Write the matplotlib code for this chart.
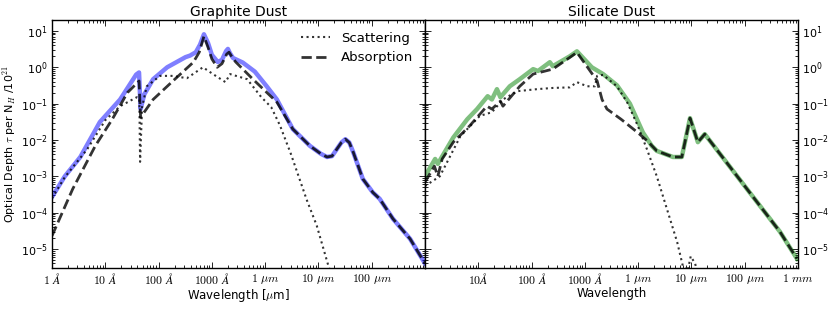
import matplotlib
matplotlib.use("Agg")
import matplotlib.pyplot as plt
from matplotlib.ticker import FixedLocator, FixedFormatter, LogLocator, NullFormatter

plt.rcParams['mathtext.fontset'] = 'cm'
plt.rcParams['font.family'] = ['DejaVu Sans']

# ---------------- Graphite dust (wavelength in micron) ----------------
gr_tot_wl = [1e-4, 1.74e-4, 3.4e-4, 7.9e-4, 1.9e-3, 3.8e-3, 4.3e-3, 4.6e-3, 5.4e-3,
             7.9e-3, 1.45e-2, 3.2e-2, 3.9e-2, 5.0e-2, 6.0e-2, 7.1e-2, 0.085, 0.1, 0.129, 0.155,
             0.185, 0.2, 0.22, 0.25, 0.38, 0.64, 1.07, 1.66, 3.3, 6.9, 11, 14.5, 18, 21, 27, 32, 38, 45, 68, 105,
             141, 250, 525, 1000]
gr_tot = [2.7e-4, 1.0e-3, 3.4e-3, 3.1e-2, 0.13, 0.63, 0.72, 0.071, 0.18,
          0.47, 1.0, 1.9, 2.1, 2.6, 4.2, 8.1, 4.6, 2.2, 1.4, 1.6,
          2.8, 3.2, 2.4, 1.8, 1.35, 0.76, 0.30, 0.13, 0.02, 6.9e-3, 4.2e-3, 3.4e-3, 3.6e-3, 5e-3, 8.5e-3, 1.05e-2, 8.5e-3, 4.6e-3, 8.5e-4, 3.6e-4,
          2.4e-4, 6.8e-5, 1.9e-5, 4.0e-6]

gr_abs_wl = [1e-4, 2.45e-4, 6.5e-4, 1.35e-3, 2.6e-3, 4.3e-3, 4.6e-3, 7.9e-3, 1.86e-2,
             4.5e-2, 5.8e-2, 7.1e-2, 0.085, 0.1, 0.126, 0.155, 0.19, 0.21, 0.24, 0.28, 0.59, 1.66, 3.3, 6.9,
             11, 14.5, 18, 21, 27, 32, 38, 45, 68, 105, 141, 250, 525, 1000]
gr_abs = [2.3e-5, 4.5e-4, 6.9e-3, 3.7e-2, 0.2, 0.42, 0.042, 0.13, 0.42,
          1.38, 2.6, 7.1, 3.5, 1.7, 1.0, 1.26, 2.3, 2.6, 1.9, 1.4, 0.47, 0.11, 0.02, 6.9e-3,
          4.2e-3, 3.4e-3, 3.6e-3, 5e-3, 8.5e-3, 1.05e-2, 8.5e-3, 4.6e-3, 8.5e-4, 3.6e-4, 2.4e-4, 6.8e-5, 1.9e-5, 4.0e-6]

gr_sca_wl = [1e-4, 1.74e-4, 4.6e-4, 1e-3, 1.9e-3, 3.9e-3, 4.35e-3, 4.5e-3, 4.9e-3, 6e-3,
             1.07e-2, 1.86e-2, 3.4e-2, 6.8e-2, 0.105, 0.18, 0.22, 0.46, 0.85, 1.3, 1.9,
             2.6, 2.95, 6.0, 9.3, 15, 20]
gr_sca = [2.5e-4, 9.5e-4, 5.6e-3, 3.5e-2, 8.5e-2, 0.15, 0.14, 2.5e-3, 0.08, 0.30,
          0.58, 0.58, 0.5, 1.0, 0.65, 0.39, 0.65, 0.47, 0.15, 0.08, 0.025,
          7.5e-3, 4.7e-3, 2.3e-4, 4.4e-5, 3.9e-6, 1e-6]

# ---------------- Silicate dust (wavelength in micron) ----------------
si_tot_wl = [1e-4, 1.55e-4, 1.74e-4, 3.4e-4, 6.2e-4, 9.5e-4, 1.5e-3, 1.8e-3, 2.24e-3, 2.6e-3,
             3.9e-3, 6e-3, 1.07e-2, 1.32e-2, 2.2e-2, 2.5e-2, 5.2e-2, 7.1e-2, 0.135, 0.22,
             0.40, 0.7, 1.23, 1.8, 2.24, 4.5, 6.6, 9.4, 13.2, 17.8, 110, 457, 955]
si_tot = [1.0e-3, 3.0e-3, 2.2e-3, 1.17e-2, 3.7e-2, 7.1e-2, 0.16, 0.13, 0.25, 0.15,
          0.30, 0.47, 0.89, 0.79, 1.38, 1.07, 2.0, 2.75, 1.0, 0.65,
          0.32, 0.1, 1.6e-2, 6.9e-3, 5e-3, 3.4e-3, 3.4e-3, 4e-2, 8.7e-3, 1.45e-2, 4.5e-4, 3e-5, 5.4e-6]

si_abs_wl = [1e-4, 1.5e-4, 1.74e-4, 2.1e-4, 3.4e-4, 6.9e-4, 1.45e-3, 1.8e-3, 2.6e-3, 2.9e-3,
             6e-3, 1.07e-2, 2.5e-2, 5.2e-2, 7.1e-2, 0.125, 0.17, 0.21, 0.26, 0.48, 0.98,
             1.5, 2.24, 4.5, 6.6, 9.4, 13.2, 17.8, 110, 457, 955]
si_abs = [6.9e-4, 1.9e-3, 1.0e-3, 3.0e-3, 8.7e-3, 2.45e-2, 8.5e-2, 7.1e-2, 0.117, 8.5e-2,
          0.30, 0.65, 0.89, 1.86, 2.57, 0.8, 0.42, 0.13, 0.071, 0.037, 0.016,
          9.3e-3, 5e-3, 3.4e-3, 3.4e-3, 4e-2, 8.7e-3, 1.45e-2, 4.5e-4, 3e-5, 5.4e-6]

si_sca_wl = [1e-4, 1.9e-4, 4.6e-4, 1.07e-3, 1.8e-3, 2.9e-3, 5.4e-3, 1.26e-2, 2.5e-2, 5.2e-2,
             7.1e-2, 0.11, 0.155, 0.17, 0.22, 0.40, 0.62, 0.98, 1.46, 2.24, 3.47,
             5.4, 6.9, 8.5, 9.7, 11.7, 14.5]
si_sca = [5.4e-4, 1.0e-3, 1.26e-2, 4.6e-2, 5.8e-2, 0.13, 0.22, 0.25, 0.27, 0.28,
          0.39, 0.30, 0.30, 0.58, 0.62, 0.30, 0.11, 2.5e-2, 5.6e-3, 1.0e-3, 1.26e-4,
          1.55e-5, 3.4e-6, 2.5e-6, 6.3e-6, 4e-6, 1.3e-6]

titles = ["Graphite Dust", "Silicate Dust"]
left_ticks = [1e-4, 1e-3, 1e-2, 1e-1, 1, 10, 100]
left_labels = [r'$1\ \AA$', r'$10\ \AA$', r'$100\ \AA$', r'$1000\ \AA$',
               r'$1\ \mu m$', r'$10\ \mu m$', r'$100\ \mu m$']
right_ticks = [1e-3, 1e-2, 1e-1, 1, 10, 100, 1000]
right_labels = [r'$10\AA$', r'$100\ \AA$', r'$1000\ \AA$', r'$1\ \mu m$',
                r'$10\ \mu m$', r'$100\ \mu m$', r'$1\ mm$']

fig = plt.figure(figsize=(8.30, 3.09), dpi=100)
ax1 = fig.add_axes([52/830, 1-268/309, 373/830, 248/309])
ax2 = fig.add_axes([425/830, 1-268/309, 373/830, 248/309])

ax1.plot(gr_tot_wl, gr_tot, color='b', alpha=0.5, lw=3.2, solid_joinstyle='round')
ax1.plot(gr_sca_wl, gr_sca, ':', color='k', alpha=0.8, lw=1.5, label='Scattering')
ax1.plot(gr_abs_wl, gr_abs, '--', color='k', alpha=0.8, lw=2, label='Absorption')

ax2.plot(si_tot_wl, si_tot, color='g', alpha=0.5, lw=3.2, solid_joinstyle='round')
ax2.plot(si_sca_wl, si_sca, ':', color='k', alpha=0.8, lw=1.5)
ax2.plot(si_abs_wl, si_abs, '--', color='k', alpha=0.8, lw=2)

for ax, t in zip([ax1, ax2], titles):
    ax.set_xscale('log')
    ax.set_yscale('log')
    ax.set_xlim(1e-4, 1e3)
    ax.set_ylim(3e-6, 20)
    ax.set_title(t, fontsize=10, pad=3)
    ax.tick_params(which='both', direction='in', top=True, right=True, width=0.6)
    ax.tick_params(which='major', length=4)
    ax.tick_params(which='minor', length=2)
    ax.tick_params(axis='y', labelsize=8, pad=3)
    ax.tick_params(axis='x', labelsize=8.5, pad=3)
    ax.yaxis.set_major_locator(LogLocator(base=10, numticks=20))
    ax.yaxis.set_minor_locator(LogLocator(base=10, subs=range(2, 10), numticks=20))
    ax.xaxis.set_minor_locator(LogLocator(base=10, subs=range(2, 10), numticks=20))
    ax.xaxis.set_minor_formatter(NullFormatter())
    ax.yaxis.set_minor_formatter(NullFormatter())
    for s in ax.spines.values():
        s.set_linewidth(1.0)

ax1.xaxis.set_major_locator(FixedLocator(left_ticks))
ax1.xaxis.set_major_formatter(FixedFormatter(left_labels))
ax2.xaxis.set_major_locator(FixedLocator(right_ticks))
ax2.xaxis.set_major_formatter(FixedFormatter(right_labels))
ax2.tick_params(axis='y', labelleft=False, labelright=True)

ax1.set_xlabel(r'Wavelength [$\mu$m]', fontsize=8.5, labelpad=0)
ax2.set_xlabel('Wavelength', fontsize=8.5, labelpad=0)
ax1.set_ylabel(r'Optical Depth $\tau$ per N$_H$ /10$^{21}$', fontsize=8, labelpad=2)

ax1.legend(loc='upper right', frameon=False, fontsize=9.5, handlelength=2.2,
           borderaxespad=0.5, labelspacing=0.5)

fig.savefig('out.png', dpi=100)
